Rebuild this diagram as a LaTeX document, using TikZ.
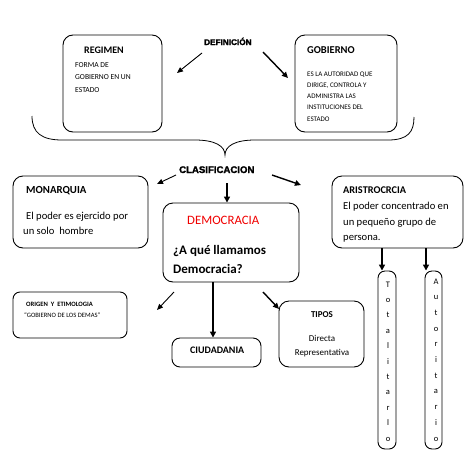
\documentclass[tikz,border=0pt]{standalone}
\usepackage{fontspec}
\setmainfont{Carlito}
\newfontfamily\heavyfont[BoldFeatures={FakeBold=2}]{Liberation Sans}
\usetikzlibrary{arrows.meta,fit}
\newcommand\fsz[1]{\fontsize{#1}{#1}\selectfont}
\definecolor{demred}{RGB}{240,0,0}
\begin{document}
\begin{tikzpicture}[x=1pt,y=1pt,
  box/.style={draw, line width=0.9pt, rounded corners=10pt, inner sep=0pt},
  colbox/.style={draw, line width=0.9pt, rounded corners=7pt, inner sep=0pt},
  txt/.style={anchor=base west, inner sep=0pt},
  ctxt/.style={anchor=base, inner sep=0pt},
  thinarrow/.style={line width=0.9pt, -{Triangle[length=6pt,width=5pt]}},
  medarrow/.style={line width=1.4pt, -{Triangle[length=6pt,width=5.5pt]}},
  thickarrow/.style={line width=1.9pt, -{Triangle[length=6pt,width=6pt]}},
  head/.style={font=\heavyfont\bfseries\fsz{#1}},
]
\useasboundingbox (0,0) rectangle (473,-458);

% boxes
\node[box, fit={(63,-35) (162,-132)}] (regimen) {};
\node[box, fit={(295,-35) (397,-132)}] (gobierno) {};
\node[box, fit={(13,-176) (148,-248)}] (monarquia) {};
\node[box, fit={(163,-203) (299,-282)}] (democracia) {};
\node[box, fit={(332,-176) (463,-248)}] (aristo) {};
\node[box, rounded corners=7pt, fit={(13,-292) (127,-338)}] (origen) {};
\node[box, rounded corners=8pt, fit={(172,-338) (261,-367)}] (ciudadania) {};
\node[box, fit={(279,-301) (364,-367)}] (tipos) {};
\node[colbox, fit={(378,-271) (396,-449)}] (totbox) {};
\node[colbox, fit={(425,-271) (442,-449)}] (autbox) {};

% headings
\node[txt, head=8.2] (definicion) at (204,-45) {DEFINICIÓN};
\node[txt, head=9.6] (clasificacion) at (179,-173) {CLASIFICACION};

% REGIMEN
\node[txt, font=\bfseries\fsz{10}] (regT) at (84,-53) {REGIMEN};
\node[txt, font=\fsz{7.6}] (reg1) at (75,-67) {FORMA DE};
\node[txt, font=\fsz{7.6}] (reg2) at (75,-79) {GOBIERNO EN UN};
\node[txt, font=\fsz{7.6}] (reg3) at (75,-92) {ESTADO};

% GOBIERNO
\node[txt, font=\bfseries\fsz{10.5}] (gobT) at (307,-53) {GOBIERNO};
\node[txt, font=\fsz{7}] (gob1) at (307,-76) {ES LA AUTORIDAD QUE};
\node[txt, font=\fsz{7}] (gob2) at (307,-87) {DIRIGE, CONTROLA Y};
\node[txt, font=\fsz{7}] (gob3) at (307,-98) {ADMINISTRA LAS};
\node[txt, font=\fsz{7}] (gob4) at (307,-109) {INSTITUCIONES DEL};
\node[txt, font=\fsz{7}] (gob5) at (307,-121) {ESTADO};

% MONARQUIA
\node[txt, font=\bfseries\fsz{10.8}] (monT) at (26,-193) {MONARQUIA};
\node[txt, font=\fsz{10.6}] (mon1) at (26,-219) {El poder es ejercido por};
\node[txt, font=\fsz{10.6}] (mon2) at (23,-234) {un solo\ \ hombre};

% DEMOCRACIA
\node[txt, font=\fsz{12.8}, text=demred] (demT) at (187,-224) {DEMOCRACIA};
\node[txt, font=\bfseries\fsz{13}] (dem1) at (173,-254) {¿A qué llamamos};
\node[txt, font=\bfseries\fsz{13}] (dem2) at (173,-273) {Democracia?};

% ARISTROCRCIA
\node[txt, font=\bfseries\fsz{10.3}] (ariT) at (343,-193) {ARISTROCRCIA};
\node[txt, font=\fsz{10.6}] (ari1) at (343,-209) {El poder concentrado en};
\node[txt, font=\fsz{10.6}] (ari2) at (343,-225) {un pequeño grupo de};
\node[txt, font=\fsz{10.6}] (ari3) at (343,-240) {persona.};

% ORIGEN
\node[txt, font=\bfseries\fsz{6.6}] (oriT) at (26,-306) {ORIGEN\ \ Y\ \ ETIMOLOGIA};
\node[txt, font=\fsz{6.6}] (ori1) at (24,-317) {“GOBIERNO DE LOS DEMAS”};

% CIUDADANIA
\node[txt, font=\bfseries\fsz{10}] (ciuT) at (190,-353) {CIUDADANIA};

% TIPOS
\node[ctxt, font=\bfseries\fsz{9}] (tipT) at (322,-317) {TIPOS};
\node[ctxt, font=\fsz{9}] (tip1) at (322,-341) {Directa};
\node[ctxt, font=\fsz{9}] (tip2) at (322,-355) {Representativa};

% column letters
\foreach \l [count=\i] in {T,o,t,a,l,i,t,a,r,l,o}
  \node[ctxt, font=\fsz{8.5}] (tot\i) at (388,{-287-15.4*(\i-1)}) {\l};
\foreach \l [count=\i] in {A,u,t,o,r,i,t,a,r,i,o}
  \node[ctxt, font=\fsz{8.5}] (aut\i) at (436,{-284-15.7*(\i-1)}) {\l};

% brace
\draw[line width=0.8pt] (32,-116) .. controls (32,-133) and (42,-140) .. (62,-140)
  -- (195,-140) .. controls (215,-140) and (225,-146) .. (225,-155)
  .. controls (225,-146) and (235,-140) .. (255,-140)
  -- (388,-140) .. controls (408,-140) and (414,-132) .. (414,-117);

% arrow coordinates
\coordinate (defLs) at (202,-53);
\coordinate (defLe) at (177,-73);
\coordinate (defRs) at (263,-52);
\coordinate (defRe) at (288,-78);
\coordinate (claLs) at (176,-175);
\coordinate (claLe) at (157,-184);
\coordinate (claRs) at (272,-175);
\coordinate (claRe) at (301,-185);
\coordinate (claD) at (227,-183);
\coordinate (demLs) at (174,-292);
\coordinate (demLe) at (157,-310);
\coordinate (demRs) at (263,-292);
\coordinate (demRe) at (279,-309);
\coordinate (ciuX) at (213,0);
\coordinate (totX) at (382,0);
\coordinate (autX) at (426,0);

\draw[thinarrow] (defLs) -- (defLe);
\draw[medarrow] (defRs) -- (defRe);
\draw[thinarrow] (claLs) -- (claLe);
\draw[medarrow] (claRs) -- (claRe);
\draw[thickarrow] (claD) -- (democracia.north -| claD);
\draw[thinarrow] (demLs) -- (demLe);
\draw[medarrow] (demRs) -- (demRe);
\draw[thickarrow] (democracia.south -| ciuX) -- (ciudadania.north -| ciuX);
\draw[thickarrow] (aristo.south -| totX) -- (totbox.north -| totX);
\draw[thickarrow] (aristo.south -| autX) -- (autbox.north -| autX);
\end{tikzpicture}
\end{document}
